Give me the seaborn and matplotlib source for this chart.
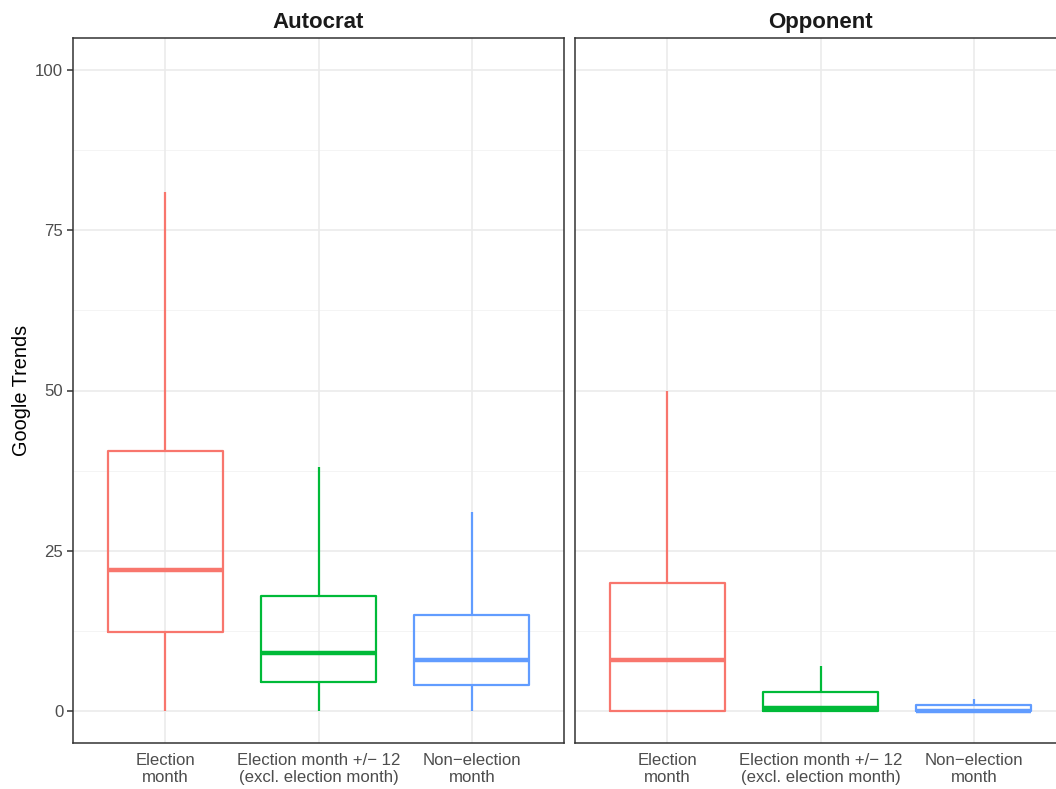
import numpy as np
import pandas as pd
import matplotlib
matplotlib.use("Agg")
import matplotlib.pyplot as plt
import seaborn as sns
from matplotlib.ticker import MultipleLocator

# categories and facet names
periods = ["Election\nmonth", "Election month +/\u2212 12\n(excl. election month)", "Non\u2212election\nmonth"]
panels = ["Autocrat", "Opponent"]
colors = ["#F8766D", "#00BA38", "#619CFF"]

# five-number summaries: min, Q1, median, Q3, max
autocrat_election = [0, 12.3, 22.0, 40.6, 81.0]
autocrat_near = [0, 4.5, 9.0, 17.9, 38.0]
autocrat_non = [0, 4.1, 8.0, 15.0, 31.0]
opponent_election = [0, 0, 8.0, 20.0, 50.0]
opponent_near = [0, 0, 0.4, 3.0, 7.0]
opponent_non = [0, 0, 0, 1.0, 1.9]

rows = []
for panel, groups in zip(panels, [[autocrat_election, autocrat_near, autocrat_non],
                                  [opponent_election, opponent_near, opponent_non]]):
    for period, vals in zip(periods, groups):
        for v in vals:
            rows.append({"panel": panel, "period": period, "value": v})
df = pd.DataFrame(rows)

sns.set_style("white")
plt.rcParams["font.family"] = ["Liberation Sans", "DejaVu Sans"]

fig = plt.figure(figsize=(10.56, 7.89), dpi=100)
W, H = 1056, 789
axes = [fig.add_axes([73 / W, 46 / H, 491 / W, 705 / H]),
        fig.add_axes([575 / W, 46 / H, 491 / W, 705 / H])]

for i, (ax, panel) in enumerate(zip(axes, panels)):
    sub = df[df["panel"] == panel]
    # grid
    for y in [12.5, 37.5, 62.5, 87.5]:
        ax.axhline(y, color="#F2F2F2", lw=0.6, zorder=0)
    for y in [0, 25, 50, 75, 100]:
        ax.axhline(y, color="#EBEBEB", lw=1.2, zorder=0)
    for x in range(3):
        ax.axvline(x, color="#EBEBEB", lw=1.2, zorder=0)
    sns.boxplot(data=sub, x="period", y="value", hue="period", order=periods,
                hue_order=periods, palette=colors, fill=False, width=0.75,
                whis=(0, 100), showcaps=False, showfliers=False, legend=False,
                linewidth=1.6, medianprops={"linewidth": 3.2}, ax=ax)
    ax.set_xlim(-0.6, 2.6)
    ax.set_ylim(-5, 105)
    ax.yaxis.set_major_locator(MultipleLocator(25))
    ax.set_xlabel("")
    ax.set_ylabel("")
    ax.set_title(panel, fontsize=16, fontweight="bold", color="#1A1A1A", pad=7)
    ax.tick_params(axis="x", length=4, width=1.1, color="#333333", labelsize=12.1,
                   labelcolor="#4D4D4D", pad=3)
    for lab in ax.get_xticklabels():
        lab.set_linespacing(1.2)
    if i == 0:
        ax.tick_params(axis="y", length=4, width=1.1, color="#333333", labelsize=12.1,
                       labelcolor="#4D4D4D", left=True, pad=3)
        ax.set_ylabel("Google Trends", fontsize=14.3, color="black", labelpad=3)
    else:
        ax.tick_params(axis="y", left=False, labelleft=False)
    for s in ax.spines.values():
        s.set_visible(True)
        s.set_color("#333333")
        s.set_linewidth(1.1)

fig.savefig("out.png", dpi=100)
